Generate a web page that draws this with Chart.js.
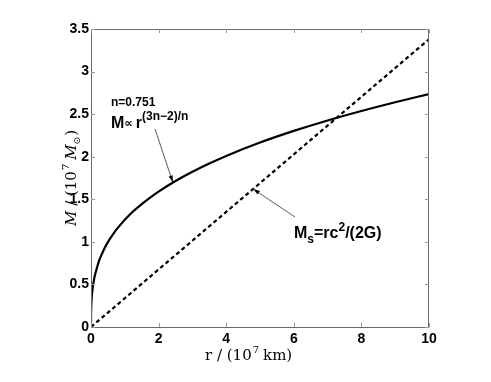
<!DOCTYPE html>
<html>
<head>
<meta charset="utf-8">
<script src="https://cdn.jsdelivr.net/npm/chart.js@4.4.0/dist/chart.umd.min.js"></script>
<style>
  html, body { margin: 0; padding: 0; background: #fff; }
  #wrap { width: 491px; height: 382px; }
</style>
</head>
<body>
<div id="wrap"><canvas id="massChart" width="491" height="382"></canvas></div>
<script>
// values
const rValues = [0, 0.001, 0.005, 0.02, 0.05, 0.1, 0.18, 0.25, 0.32, 0.4, 0.5, 0.62, 0.75, 0.87, 1, 1.25, 1.5, 1.75, 2, 2.5, 3, 3.5, 4, 5, 6, 7, 8, 9, 10];
const massValues = [0, 0.12, 0.21, 0.34, 0.46, 0.58, 0.70, 0.79, 0.855, 0.925, 0.997, 1.07, 1.143, 1.2, 1.259, 1.36, 1.443, 1.52, 1.59, 1.714, 1.823, 1.92, 2.009, 2.166, 2.303, 2.426, 2.537, 2.64, 2.736];
const schwarzR = [0, 10];
const schwarzM = [0, 3.38];
const xTicks = [0, 2, 4, 6, 8, 10];
const yTicks = [0, 0.5, 1, 1.5, 2, 2.5, 3, 3.5];

const axisGray = "#6a6a6a";

// box, inward ticks, titles, arrows and formula labels
const decorPlugin = {
  id: "decor",
  afterDraw(chart) {
    const ctx = chart.ctx;
    const a = chart.chartArea;
    const xs = chart.scales.x, ys = chart.scales.y;
    ctx.save();
    ctx.strokeStyle = axisGray;
    ctx.lineWidth = 1;
    ctx.strokeRect(a.left + 0.5, a.top + 0.5, a.right - a.left - 1, a.bottom - a.top);
    ctx.strokeStyle = "#999";
    ctx.beginPath();
    xTicks.forEach((v) => {
      const px = Math.round(xs.getPixelForValue(v)) + 0.5;
      ctx.moveTo(px, a.bottom); ctx.lineTo(px, a.bottom - 4);
      ctx.moveTo(px, a.top); ctx.lineTo(px, a.top + 4);
    });
    yTicks.forEach((v) => {
      const py = Math.round(ys.getPixelForValue(v)) + 0.5;
      ctx.moveTo(a.left, py); ctx.lineTo(a.left + 4, py);
      ctx.moveTo(a.right, py); ctx.lineTo(a.right - 4, py);
    });
    ctx.stroke();

    // axis titles (serif)
    ctx.fillStyle = "#000";
    ctx.textBaseline = "alphabetic";
    ctx.font = "15px 'DejaVu Serif', 'Liberation Serif', serif";
    let x = 205, y = 360;
    ctx.textAlign = "left";
    ctx.fillText("r / (10", x, y);
    x += ctx.measureText("r / (10").width;
    ctx.font = "10px 'DejaVu Serif', 'Liberation Serif', serif";
    ctx.fillText("7", x + 1, y - 7);
    x += ctx.measureText("7").width + 5;
    ctx.font = "15px 'DejaVu Serif', 'Liberation Serif', serif";
    ctx.fillText("km)", x, y);

    ctx.save();
    ctx.translate(76, 226);
    ctx.rotate(-Math.PI / 2);
    x = 0;
    ctx.font = "italic 15px 'DejaVu Serif', 'Liberation Serif', serif";
    ctx.fillText("M", x, 0);
    x += ctx.measureText("M").width;
    ctx.font = "15px 'DejaVu Serif', 'Liberation Serif', serif";
    ctx.fillText(" / (10", x, 0);
    x += ctx.measureText(" / (10").width;
    ctx.font = "10px 'DejaVu Serif', 'Liberation Serif', serif";
    ctx.fillText("7", x + 1, -7);
    x += ctx.measureText("7").width + 5;
    ctx.font = "italic 15px 'DejaVu Serif', 'Liberation Serif', serif";
    ctx.fillText("M", x, 0);
    x += ctx.measureText("M").width;
    ctx.font = "9px 'DejaVu Sans', sans-serif";
    ctx.fillText("\u2299", x, 4);
    x += ctx.measureText("\u2299").width + 1;
    ctx.font = "15px 'DejaVu Serif', 'Liberation Serif', serif";
    ctx.fillText(")", x, 0);
    ctx.restore();

    // arrows
    function arrow(x0, y0, x1, y1) {
      ctx.strokeStyle = "#333";
      ctx.lineWidth = 0.8;
      ctx.beginPath();
      ctx.moveTo(x0, y0); ctx.lineTo(x1, y1);
      ctx.stroke();
      const ang = Math.atan2(y1 - y0, x1 - x0);
      ctx.fillStyle = "#000";
      ctx.beginPath();
      ctx.moveTo(x1, y1);
      ctx.lineTo(x1 - 7 * Math.cos(ang - 0.3), y1 - 7 * Math.sin(ang - 0.3));
      ctx.lineTo(x1 - 7 * Math.cos(ang + 0.3), y1 - 7 * Math.sin(ang + 0.3));
      ctx.closePath();
      ctx.fill();
    }
    arrow(155, 129, xs.getPixelForValue(2.42), ys.getPixelForValue(1.7));
    arrow(295, 217, xs.getPixelForValue(4.8), ys.getPixelForValue(1.62));

    // formula labels
    ctx.fillStyle = "#000";
    ctx.font = "bold 12px 'Liberation Sans', Arial, sans-serif";
    ctx.fillText("n=0.751", 111, 106);
    ctx.font = "bold 16px 'Liberation Sans', Arial, sans-serif";
    x = 111; y = 128;
    ctx.fillText("M", x, y);
    x += ctx.measureText("M").width;
    ctx.font = "bold 12px 'DejaVu Sans', sans-serif";
    ctx.fillText("\u221D", x, y - 1);
    x += ctx.measureText("\u221D").width + 3;
    ctx.font = "bold 16px 'Liberation Sans', Arial, sans-serif";
    ctx.fillText("r", x, y);
    x += ctx.measureText("r").width;
    ctx.font = "bold 12px 'Liberation Sans', Arial, sans-serif";
    ctx.fillText("(3n\u22122)/n", x, y - 8);

    x = 294; y = 238;
    ctx.font = "bold 16px 'Liberation Sans', Arial, sans-serif";
    ctx.fillText("M", x, y);
    x += ctx.measureText("M").width;
    ctx.font = "bold 12px 'Liberation Sans', Arial, sans-serif";
    ctx.fillText("s", x, y + 5);
    x += ctx.measureText("s").width;
    ctx.font = "bold 16px 'Liberation Sans', Arial, sans-serif";
    ctx.fillText("=rc", x, y);
    x += ctx.measureText("=rc").width;
    ctx.font = "bold 12px 'Liberation Sans', Arial, sans-serif";
    ctx.fillText("2", x, y - 7);
    x += ctx.measureText("2").width;
    ctx.font = "bold 16px 'Liberation Sans', Arial, sans-serif";
    ctx.fillText("/(2G)", x, y);
    ctx.restore();
  },
};

const whiteBg = {
  id: "whiteBg",
  beforeDraw(chart) {
    const ctx = chart.ctx;
    ctx.save();
    ctx.fillStyle = "#fff";
    ctx.fillRect(0, 0, chart.width, chart.height);
    ctx.restore();
  },
};

const tickFont = { family: "'Liberation Sans', Arial, sans-serif", size: 14, weight: "bold" };

new Chart(document.getElementById("massChart").getContext("2d"), {
  type: "line",
  data: {
    datasets: [
      {
        label: "M ~ r^((3n-2)/n)",
        data: rValues.map((r, i) => ({ x: r, y: massValues[i] })),
        borderColor: "#000",
        borderWidth: 2.2,
        pointRadius: 0,
        cubicInterpolationMode: "monotone",
        fill: false,
      },
      {
        label: "Ms = rc^2/(2G)",
        data: schwarzR.map((r, i) => ({ x: r, y: schwarzM[i] })),
        borderColor: "#000",
        borderWidth: 2.2,
        borderDash: [4, 3],
        pointRadius: 0,
        fill: false,
      },
    ],
  },
  options: {
    responsive: false,
    animation: false,
    layout: { padding: { left: 0, top: 29, right: 62, bottom: 0 } },
    plugins: { legend: { display: false }, tooltip: { enabled: false } },
    scales: {
      x: {
        type: "linear",
        min: 0,
        max: 10,
        afterFit: (s) => { s.height = 55; },
        afterBuildTicks: (s) => { s.ticks = xTicks.map((v) => ({ value: v })); },
        grid: { display: false, drawTicks: false },
        border: { display: false },
        ticks: {
          padding: 4,
          color: "#000",
          font: tickFont,
          callback: (v) => String(v),
        },
      },
      y: {
        min: 0,
        max: 3.5,
        afterFit: (s) => { s.width = 91; },
        afterBuildTicks: (s) => { s.ticks = yTicks.map((v) => ({ value: v })); },
        grid: { display: false, drawTicks: false },
        border: { display: false },
        ticks: {
          padding: 2,
          color: "#000",
          font: tickFont,
          callback: (v) => String(v),
        },
      },
    },
  },
  plugins: [whiteBg, decorPlugin],
});
</script>
</body>
</html>
